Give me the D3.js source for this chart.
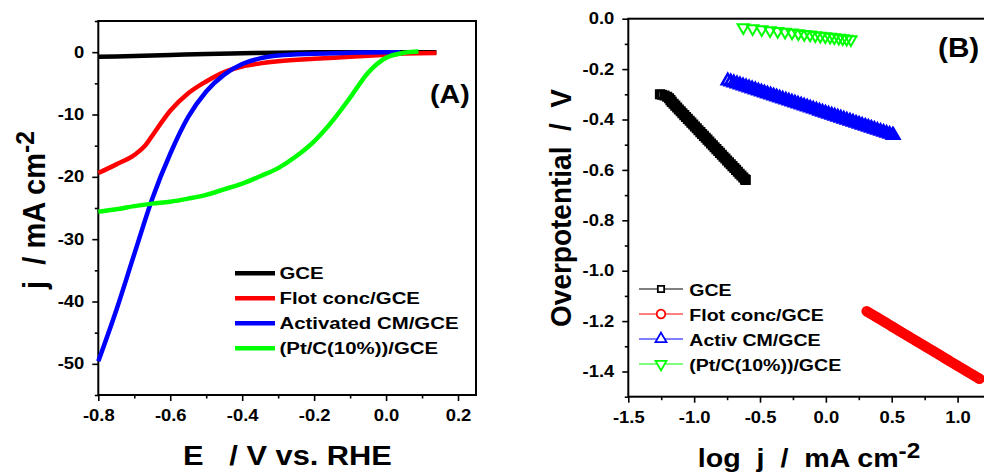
<!DOCTYPE html>
<html lang="en">
<head>
  <meta charset="UTF-8" />
  <title>LSV and Tafel plots</title>
  <script src="https://cdn.jsdelivr.net/npm/d3@7/dist/d3.min.js"></script>
  <style>
    html, body { margin: 0; background: #fff; }
    svg {
      display: block;
      font-family: "Liberation Sans", Arial, sans-serif;
      font-weight: bold;
    }
    .axis path { display: none; }
    .axis line { stroke: #000; stroke-width: 1.6; }
    .axis text { font-size: 16px; font-weight: bold; fill: #000; }
    .frame { fill: none; stroke: #000; stroke-width: 2; }
    .title { white-space: pre; fill: #000; }
    .leg text { font-size: 17px; fill: #000; }
  </style>
</head>
<body>
  <svg id="chart" width="984" height="474"></svg>
  <script>
    // ---- panel A : polarisation curves (E vs RHE, j in mA cm-2) ----
    const eGCE = [-0.8, -0.7, -0.6, -0.5, -0.4, -0.3, -0.2, -0.1, 0.0, 0.14];
    const jGCE = [-0.75, -0.6, -0.45, -0.3, -0.18, -0.08, -0.03, 0, 0, 0];

    const eFlot = [-0.8, -0.75, -0.7, -0.667, -0.65, -0.6, -0.55, -0.5, -0.45, -0.4, -0.35, -0.3, -0.2, -0.1, 0.0, 0.05, 0.14];
    const jFlot = [-19.4, -18.0, -16.5, -14.8, -13.4, -9.4, -6.6, -4.7, -3.2, -2.3, -1.8, -1.45, -1.05, -0.75, -0.4, -0.2, -0.15];

    const eAct = [-0.8, -0.75, -0.7, -0.65, -0.6, -0.55, -0.5, -0.45, -0.4, -0.35, -0.3, -0.2, -0.1, 0.0, 0.04];
    const jAct = [-49.6, -41.4, -32.4, -23.5, -16.3, -10.4, -6.3, -3.6, -1.9, -1.0, -0.55, -0.25, -0.1, 0, 0];

    const ePt = [-0.8, -0.75, -0.7, -0.65, -0.6, -0.55, -0.5, -0.45, -0.4, -0.35, -0.3, -0.25, -0.2, -0.15, -0.1, -0.05, 0.0, 0.05, 0.09];
    const jPt = [-25.6, -25.2, -24.7, -24.3, -24.0, -23.5, -22.9, -22.0, -21.1, -19.9, -18.6, -16.7, -14.3, -11.1, -7.3, -3.3, -0.9, -0.1, 0.1];

    const namesA = ['GCE', 'Flot conc/GCE', 'Activated CM/GCE', '(Pt/C(10%))/GCE'];
    const xTicksA = [-0.8, -0.6, -0.4, -0.2, 0.0, 0.2];
    const xMinorA = [-0.7, -0.5, -0.3, -0.1, 0.1];
    const yTicksA = [-50, -40, -30, -20, -10, 0];
    const yMinorA = [-55, -45, -35, -25, -15, -5, 5];

    // ---- panel B : Tafel plots (log j vs overpotential) ----
    const logGCE = [-1.26, -1.245, -1.225, -1.205, -1.19, -1.18, -1.17, -1.156, -1.143, -1.129, -1.116, -1.102, -1.089, -1.075,
      -1.062, -1.048, -1.034, -1.021, -1.007, -0.994, -0.98, -0.967, -0.953, -0.94, -0.926, -0.912, -0.899, -0.885, -0.872,
      -0.858, -0.845, -0.831, -0.817, -0.804, -0.79, -0.777, -0.763, -0.75, -0.736, -0.722, -0.709, -0.695, -0.682, -0.668,
      -0.655, -0.641, -0.627, -0.614, -0.608];
    const etaGCE = [-0.3, -0.302, -0.305, -0.31, -0.316, -0.323, -0.33, -0.3375, -0.345, -0.3525, -0.36, -0.3675, -0.375, -0.3825,
      -0.39, -0.3975, -0.405, -0.4125, -0.42, -0.4275, -0.435, -0.4425, -0.45, -0.4575, -0.465, -0.4725, -0.48, -0.4875, -0.495,
      -0.5025, -0.51, -0.5175, -0.525, -0.5325, -0.54, -0.5475, -0.555, -0.5625, -0.57, -0.5775, -0.585, -0.5925, -0.6, -0.6075,
      -0.615, -0.6225, -0.63, -0.6375, -0.64];

    const logFlot = [0.31, 0.326, 0.342, 0.358, 0.374, 0.39, 0.406, 0.422, 0.438, 0.454, 0.47, 0.486, 0.502, 0.518, 0.534, 0.55,
      0.566, 0.582, 0.598, 0.614, 0.63, 0.645, 0.661, 0.677, 0.693, 0.709, 0.725, 0.741, 0.757, 0.773, 0.789, 0.805, 0.821,
      0.837, 0.853, 0.869, 0.885, 0.901, 0.917, 0.933, 0.949, 0.965, 0.981, 0.997, 1.013, 1.029, 1.045, 1.061, 1.077, 1.093,
      1.109, 1.125, 1.141, 1.157, 1.166];
    const etaFlot = [-1.161, -1.166, -1.171, -1.176, -1.181, -1.186, -1.191, -1.196, -1.201, -1.206, -1.211, -1.216, -1.221,
      -1.226, -1.231, -1.236, -1.241, -1.246, -1.251, -1.256, -1.261, -1.266, -1.271, -1.276, -1.281, -1.286, -1.291, -1.296,
      -1.301, -1.306, -1.311, -1.316, -1.321, -1.326, -1.331, -1.336, -1.341, -1.346, -1.351, -1.356, -1.361, -1.366, -1.371,
      -1.376, -1.381, -1.386, -1.391, -1.396, -1.401, -1.406, -1.411, -1.416, -1.421, -1.426, -1.429];

    const logAct = [-0.745, -0.722, -0.699, -0.675, -0.652, -0.629, -0.606, -0.583, -0.56, -0.536, -0.513, -0.49, -0.467, -0.444,
      -0.42, -0.397, -0.374, -0.351, -0.328, -0.304, -0.281, -0.258, -0.235, -0.212, -0.188, -0.165, -0.142, -0.119, -0.096,
      -0.072, -0.049, -0.026, -0.003, 0.02, 0.044, 0.067, 0.09, 0.113, 0.136, 0.159, 0.183, 0.206, 0.229, 0.252, 0.275, 0.299,
      0.322, 0.345, 0.368, 0.391, 0.415, 0.438, 0.461, 0.484, 0.507, 0.513];
    const etaAct = [-0.246, -0.25, -0.254, -0.258, -0.262, -0.266, -0.27, -0.274, -0.278, -0.282, -0.286, -0.29, -0.294, -0.298,
      -0.302, -0.306, -0.31, -0.314, -0.318, -0.322, -0.326, -0.33, -0.334, -0.338, -0.342, -0.346, -0.35, -0.354, -0.358,
      -0.362, -0.366, -0.37, -0.374, -0.378, -0.382, -0.386, -0.39, -0.394, -0.398, -0.402, -0.406, -0.41, -0.414, -0.418,
      -0.422, -0.426, -0.43, -0.434, -0.438, -0.442, -0.446, -0.45, -0.454, -0.458, -0.462, -0.463];

    const logPt = [-0.627, -0.556, -0.487, -0.424, -0.366, -0.31, -0.257, -0.209, -0.164, -0.12, -0.08, -0.042, -0.004, 0.032,
      0.064, 0.098, 0.128, 0.158, 0.19];
    const etaPt = [-0.035, -0.039, -0.043, -0.047, -0.05, -0.053, -0.056, -0.059, -0.062, -0.064, -0.067, -0.069, -0.071, -0.073,
      -0.075, -0.077, -0.079, -0.081, -0.083];

    const namesB = ['GCE', 'Flot conc/GCE', 'Activ CM/GCE', '(Pt/C(10%))/GCE'];
    const xTicksB = [-1.5, -1.0, -0.5, 0.0, 0.5, 1.0];
    const xMinorB = [-1.25, -0.75, -0.25, 0.25, 0.75];
    const yTicksB = [-1.4, -1.2, -1.0, -0.8, -0.6, -0.4, -0.2, 0.0];
    const yMinorB = [-1.5, -1.3, -1.1, -0.9, -0.7, -0.5, -0.3, -0.1];

    const colors = ['#000000', '#ff0000', '#0000ff', '#00ff00'];

    const svg = d3.select('#chart');
    const fmt = f => v => d3.format(f)(v).replace('\u2212', '-');

    // stretch text horizontally (the original figure is slightly wide)
    function widen(sel, s) {
      sel.each(function() {
        const t = d3.select(this);
        const x = +t.attr('x') || 0;
        t.attr('x', x / s).attr('transform', `scale(${s},1)`);
      });
    }

    function axes(x, y, xt, xm, yt, ym, xf, yf) {
      const [x0] = x.range();
      const [y0] = y.range();
      const gx = svg.append('g').attr('class', 'axis').attr('transform', `translate(0,${y0})`)
        .call(d3.axisBottom(x).tickValues(xt).tickSize(6).tickPadding(9).tickFormat(fmt(xf)));
      svg.append('g').attr('class', 'axis').attr('transform', `translate(0,${y0})`)
        .call(d3.axisBottom(x).tickValues(xm).tickSize(3.5).tickFormat(''));
      const gy = svg.append('g').attr('class', 'axis').attr('transform', `translate(${x0},0)`)
        .call(d3.axisLeft(y).tickValues(yt).tickSize(6).tickPadding(8).tickFormat(fmt(yf)));
      svg.append('g').attr('class', 'axis').attr('transform', `translate(${x0},0)`)
        .call(d3.axisLeft(y).tickValues(ym).tickSize(3.5).tickFormat(''));
      widen(gx.selectAll('text'), 1.15);
      widen(gy.selectAll('text'), 1.15);
      const [x1, x2] = x.range();
      const [y1, y2] = y.range();
      svg.append('rect').attr('class', 'frame')
        .attr('x', x1).attr('y', y2).attr('width', x2 - x1).attr('height', y1 - y2);
    }

    function title(x, y, s, size, parts, rotate) {
      const t = svg.append('text').attr('class', 'title')
        .attr('text-anchor', 'middle')
        .attr('transform', rotate
          ? `translate(${x},${y}) rotate(-90) scale(1,${s})`
          : `translate(${x},${y}) scale(${s},1)`)
        .style('font-size', size + 'px');
      t.append('tspan').text(parts[0]);
      if (parts[1]) {
        t.append('tspan').attr('dy', -size * 0.36).style('font-size', (size * 0.85) + 'px').text(parts[1]);
      }
      return t;
    }

    // ---------------- panel A ----------------
    const xA = d3.scaleLinear().domain([-0.8, 0.25]).range([98.3, 476]);
    const yA = d3.scaleLinear().domain([-55, 5]).range([395, 21]);
    axes(xA, yA, xTicksA, xMinorA, yTicksA, yMinorA, '.1f', '.0f');

    const seriesA = [[eGCE, jGCE], [eFlot, jFlot], [eAct, jAct], [ePt, jPt]];
    const lineA = d3.line().x(d => xA(d[0])).y(d => yA(d[1])).curve(d3.curveMonotoneX);
    seriesA.forEach(([e, j], i) => {
      svg.append('path')
        .datum(e.map((v, k) => [v, j[k]]))
        .attr('d', lineA)
        .attr('fill', 'none')
        .attr('stroke', colors[i])
        .attr('stroke-width', 4.5);
    });

    const legA = svg.append('g').attr('class', 'leg');
    namesA.forEach((n, i) => {
      const y = 273.3 + i * 25;
      legA.append('line').attr('x1', 235).attr('x2', 275).attr('y1', y).attr('y2', y)
        .attr('stroke', colors[i]).attr('stroke-width', 4.5);
      legA.append('text').attr('transform', `translate(279.5,${y + 5.5}) scale(1.2,1)`).text(n);
    });

    svg.append('text').attr('class', 'title').attr('transform', 'translate(430,103) scale(1.1,1)')
      .style('font-size', '26px').text('(A)');
    title(287.5, 465, 1.1, 28, ['E   / V vs. RHE']);
    title(45, 210, 1.08, 29, ['j  / mA cm', '-2'], true);

    // ---------------- panel B ----------------
    const xB = d3.scaleLinear().domain([-1.5, 1.25]).range([628.3, 990.5]);
    const yB = d3.scaleLinear().domain([-1.5, 0]).range([396.7, 18.7]);
    axes(xB, yB, xTicksB, xMinorB, yTicksB, yMinorB, '.1f', '.1f');

    const symbols = [
      { type: d3.symbolSquare, size: 56, rot: 0, leg: 40 },
      { type: d3.symbolCircle, size: 50, rot: 0, leg: 58 },
      { type: d3.symbolTriangle, size: 60, rot: 0, leg: 52 },
      { type: d3.symbolTriangle, size: 55, rot: 180, leg: 52 }
    ];
    const seriesB = [[logGCE, etaGCE], [logFlot, etaFlot], [logAct, etaAct], [logPt, etaPt]];
    seriesB.forEach(([lx, ey], i) => {
      const sym = d3.symbol().type(symbols[i].type).size(symbols[i].size);
      svg.append('g').selectAll('path')
        .data(lx.map((v, k) => [v, ey[k]]))
        .join('path')
        .attr('d', sym)
        .attr('transform', d => `translate(${xB(d[0])},${yB(d[1])}) rotate(${symbols[i].rot})`)
        .attr('fill', 'none')
        .attr('stroke', colors[i])
        .attr('stroke-width', i === 3 ? 2 : 2.6);
    });

    const legB = svg.append('g').attr('class', 'leg');
    namesB.forEach((n, i) => {
      const y = 289 + i * 25;
      legB.append('line').attr('x1', 639).attr('x2', 683).attr('y1', y).attr('y2', y)
        .attr('stroke', colors[i]).attr('stroke-width', 1);
      legB.append('path')
        .attr('d', d3.symbol().type(symbols[i].type).size(symbols[i].leg)())
        .attr('transform', `translate(661,${y}) rotate(${symbols[i].rot})`)
        .attr('fill', '#fff').attr('stroke', colors[i]).attr('stroke-width', 1.8);
      legB.append('text').attr('transform', `translate(689.3,${y + 6.5}) scale(1.15,1)`).text(n);
    });

    svg.append('text').attr('class', 'title').attr('transform', 'translate(938,57) scale(1.1,1)')
      .style('font-size', '27px').text('(B)');
    title(809, 467, 1.1, 26, ['log  j  /  mA cm', '-2']);
    title(571, 208, 1.05, 28, ['Overpotential  /  V'], true);
  </script>
</body>
</html>
